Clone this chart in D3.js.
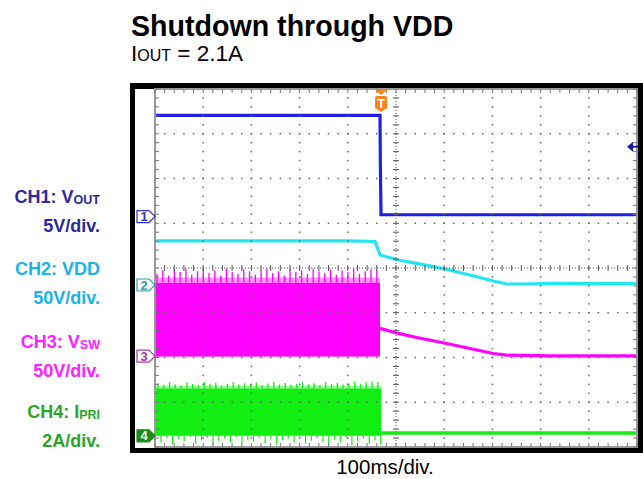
<!DOCTYPE html>
<html><head><meta charset="utf-8">
<script src="https://cdn.jsdelivr.net/npm/d3@7"></script>
<style>html,body{margin:0;padding:0;background:#fff;} svg{display:block;}</style>
</head><body>
<script>
// ---------------- data ----------------
const titleText = "Shutdown through VDD";
const timeLabel = "100ms/div.";
const channelNames = ["CH1: V", "CH2: VDD", "CH3: V", "CH4: I"];
const channelSubs = ["OUT", "", "SW", "PRI"];
const channelScales = ["5V/div.", "50V/div.", "50V/div.", "2A/div."];
const voltsPerDiv = [5, 50, 50, 2];
const groundDiv = [1.15, -0.38, -1.97, -3.75];   // channel ground offsets in divisions
const triggerTime = 469;      // ms
const triggerLevel = 7.8;     // V on CH1

// CH1 Vout (V)
const ch1Time = [0, 466.8, 467.6, 468.9, 1000];
const ch1Val  = [11.3, 11.3, 5.5, 0.2, 0.2];
// CH2 VDD (V)
const ch2Time = [0, 404.6, 456.4, 466.8, 504.8, 543, 605.2, 653.5, 701.9, 729.7, 764.1, 819.5, 1000];
const ch2Val  = [49.2, 49.2, 48.6, 33.5, 27.9, 24.2, 17.5, 11.2, 4.5, 1.1, 1.1, 1.9, 1.5];
// CH3 Vsw (V): switching band then decay
const ch3BandEnd = 466.8;
const ch3BandTop = 82;
const ch3BandLow = -0.5;
const ch3PeakStep = 12;
const ch3Peak = [92, 96, 90, 97, 94, 98, 91, 95, 97, 93, 96, 90, 98, 94, 92, 97, 95, 91, 96, 98,
                 93, 95, 90, 97, 94, 96, 92, 98, 95, 93, 97, 91, 96, 94, 98, 92, 95, 97, 96];
const ch3TailTime = [466.8, 504.8, 543, 605.2, 653.5, 701.9, 729.7, 764.1, 819.5, 1000];
const ch3TailVal  = [31, 25.4, 20.9, 14.2, 8.6, 3, 1.1, 0.8, 0.3, 0.3];
// CH4 Ipri (A): switching band then near zero
const ch4BandEnd = 468.9;
const ch4BandTop = 2.12;
const ch4BandLow = 0.0;
const ch4PeakStep = 12;
const ch4Peak = [2.35, 2.28, 2.4, 2.3, 2.25, 2.38, 2.32, 2.27, 2.42, 2.3, 2.36, 2.26, 2.33, 2.4, 2.29, 2.35, 2.31, 2.38, 2.27, 2.34,
                 2.41, 2.3, 2.36, 2.28, 2.33, 2.39, 2.3, 2.35, 2.27, 2.4, 2.32, 2.37, 2.29, 2.34, 2.42, 2.31, 2.38, 2.43, 2.4];
const ch4Dip = [-0.3, -0.1, -0.38, -0.15, -0.25, -0.05, -0.35, -0.2, -0.1, -0.4, -0.22, -0.12, -0.3, -0.08, -0.36, -0.18, -0.27, -0.1, -0.33, -0.15,
                -0.4, -0.2, -0.12, -0.3, -0.06, -0.35, -0.22, -0.1, -0.28, -0.38, -0.15, -0.3, -0.1, -0.42, -0.25, -0.12, -0.36, -0.2, -0.4];
const ch4TailTime = [468.9, 1000];
const ch4TailVal  = [0.13, 0.13];

// ---------------- styles ----------------
const labelColors = ["#2b2a9c", "#1ab2e8", "#ff22ff", "#2aa52a"];
const traceColors = ["#1f1fe6", "#22e6f0", "#ff00ff", "#11ee11"];
const markerColors = ["#3434c4", "#2aa0a8", "#a83aa8", "#1a8c1a"];
const FONT = "'Liberation Sans', Arial, Helvetica, sans-serif";

const W = 643, H = 479;
const plot = {left: 155, right: 637, top: 89, bottom: 447};

const svg = d3.select("body").append("svg").attr("width", W).attr("height", H)
  .style("font-family", FONT);

// scales
const x = d3.scaleLinear().domain([0, 1000]).range([plot.left, plot.right]);
const gx = d3.scaleLinear().domain([0, 10]).range([plot.left, plot.right]);
const gy = d3.scaleLinear().domain([-4, 4]).range([plot.bottom, plot.top]);
const cy = (ch, v) => gy(v / voltsPerDiv[ch] + groundDiv[ch]);

// title
svg.append("text").attr("x", 131).attr("y", 36).attr("font-size", 28.6).attr("font-weight", "bold")
  .attr("fill", "#000").text(titleText);
const sub = svg.append("text").attr("x", 131).attr("y", 61).attr("font-size", 22.5).attr("fill", "#000");
sub.append("tspan").text("I");
sub.append("tspan").attr("font-size", 16).text("OUT");
sub.append("tspan").text(" = 2.1A");

// frame
svg.append("rect").attr("x", 130).attr("y", 83).attr("width", 513).attr("height", 370).attr("fill", "#000");
svg.append("rect").attr("x", 135).attr("y", 89).attr("width", 503).attr("height", 359).attr("fill", "#fff");

// left labels
const labelBase = [203, 275, 348, 418];
channelNames.forEach((n, i) => {
  const t = svg.append("text").attr("x", 100).attr("y", labelBase[i]).attr("text-anchor", "end")
    .attr("font-size", 18).attr("font-weight", "bold").attr("fill", labelColors[i]);
  t.append("tspan").text(n);
  if (channelSubs[i]) t.append("tspan").attr("font-size", 12.5).attr("dy", 1).text(channelSubs[i]);
  svg.append("text").attr("x", 100).attr("y", labelBase[i] + 29).attr("text-anchor", "end")
    .attr("font-size", 18).attr("font-weight", "bold").attr("fill", labelColors[i]).text(channelScales[i]);
});

const traces = svg.append("g");
const lineGen = d3.line().x(d => x(d[0])).y(d => d[1]);
const zip = (ts, vs, ch) => ts.map((t, i) => [t, cy(ch, vs[i])]);

// CH1
traces.append("path").attr("d", lineGen(zip(ch1Time, ch1Val, 0)))
  .attr("fill", "none").attr("stroke", traceColors[0]).attr("stroke-width", 3.2);
// CH2
traces.append("path").attr("d", lineGen(zip(ch2Time, ch2Val, 1)))
  .attr("fill", "none").attr("stroke", traceColors[1]).attr("stroke-width", 3.2);

// CH3 band
const ch3PeakT = ch3Peak.map((v, i) => i * ch3PeakStep);
traces.append("rect").attr("x", x(0)).attr("width", x(ch3BandEnd) - x(0))
  .attr("y", cy(2, ch3BandTop + 6)).attr("height", cy(2, ch3BandTop) - cy(2, ch3BandTop + 6))
  .attr("fill", "#ff9cff");
traces.append("rect").attr("x", x(0)).attr("width", x(ch3BandEnd) - x(0))
  .attr("y", cy(2, ch3BandTop)).attr("height", cy(2, ch3BandLow) - cy(2, ch3BandTop))
  .attr("fill", traceColors[2]);
traces.append("g").selectAll("line").data(ch3Peak).join("line")
  .attr("x1", (d, i) => x(ch3PeakT[i]) + 2).attr("x2", (d, i) => x(ch3PeakT[i]) + 2)
  .attr("y1", cy(2, ch3BandTop)).attr("y2", d => cy(2, d))
  .attr("stroke", traceColors[2]).attr("stroke-width", 1.3);
traces.append("path").attr("d", lineGen(zip(ch3TailTime, ch3TailVal, 2)))
  .attr("fill", "none").attr("stroke", traceColors[2]).attr("stroke-width", 3.2);

// CH4 band
const ch4PeakT = ch4Peak.map((v, i) => i * ch4PeakStep);
traces.append("rect").attr("x", x(0)).attr("width", x(ch4BandEnd) - x(0))
  .attr("y", cy(3, ch4BandTop + 0.12)).attr("height", cy(3, ch4BandTop) - cy(3, ch4BandTop + 0.12))
  .attr("fill", "#9cff9c");
traces.append("rect").attr("x", x(0)).attr("width", x(ch4BandEnd) - x(0))
  .attr("y", cy(3, ch4BandTop)).attr("height", cy(3, ch4BandLow) - cy(3, ch4BandTop))
  .attr("fill", traceColors[3]);
traces.append("g").selectAll("line").data(ch4Peak).join("line")
  .attr("x1", (d, i) => x(ch4PeakT[i]) + 3).attr("x2", (d, i) => x(ch4PeakT[i]) + 3)
  .attr("y1", cy(3, ch4BandTop)).attr("y2", d => cy(3, d))
  .attr("stroke", traceColors[3]).attr("stroke-width", 1.3);
traces.append("g").selectAll("line").data(ch4Dip).join("line")
  .attr("x1", (d, i) => x(ch4PeakT[i]) + 6).attr("x2", (d, i) => x(ch4PeakT[i]) + 6)
  .attr("y1", cy(3, ch4BandLow)).attr("y2", d => cy(3, d))
  .attr("stroke", traceColors[3]).attr("stroke-width", 1.2);
traces.append("path").attr("d", lineGen(zip(ch4TailTime, ch4TailVal, 3)))
  .attr("fill", "none").attr("stroke", traceColors[3]).attr("stroke-width", 3.5);

// ---------------- graticule (on top) ----------------
const grid = svg.append("g");
const minorX = d3.range(0, 10.001, 0.2);
const minorY = d3.range(-4, 4.001, 0.2);
[1, 2, 3, 4, 6, 7, 8, 9].forEach(d => {
  grid.append("g").selectAll("rect").data(minorY).join("rect")
    .attr("x", gx(d) - 0.75).attr("y", v => gy(v) - 0.75).attr("width", 1.5).attr("height", 1.5).attr("fill", "#666");
});
[-3, -2, -1, 1, 2, 3].forEach(d => {
  grid.append("g").selectAll("rect").data(minorX).join("rect")
    .attr("x", v => gx(v) - 0.75).attr("y", gy(d) - 0.75).attr("width", 1.5).attr("height", 1.5).attr("fill", "#666");
});
grid.append("line").attr("x1", gx(5)).attr("x2", gx(5)).attr("y1", gy(4)).attr("y2", gy(-4))
  .attr("stroke", "#555").attr("stroke-width", 1).attr("stroke-dasharray", "1,2");
grid.append("line").attr("x1", gx(0)).attr("x2", gx(10)).attr("y1", gy(0)).attr("y2", gy(0))
  .attr("stroke", "#555").attr("stroke-width", 1).attr("stroke-dasharray", "1,2");
grid.append("g").selectAll("line").data(minorY).join("line")
  .attr("x1", gx(5) - 3).attr("x2", gx(5) + 3).attr("y1", v => gy(v)).attr("y2", v => gy(v))
  .attr("stroke", "#555").attr("stroke-width", 1);
grid.append("g").selectAll("line").data(minorX).join("line")
  .attr("y1", gy(0) - 3).attr("y2", gy(0) + 3).attr("x1", v => gx(v)).attr("x2", v => gx(v))
  .attr("stroke", "#555").attr("stroke-width", 1);
grid.append("rect").attr("x", gx(0)).attr("y", gy(4)).attr("width", gx(10) - gx(0)).attr("height", gy(-4) - gy(4))
  .attr("fill", "none").attr("stroke", "#999").attr("stroke-width", 2);
grid.append("g").selectAll("line").data(minorX).join("line")
  .attr("x1", v => gx(v)).attr("x2", v => gx(v)).attr("y1", gy(4)).attr("y2", gy(4) + 4)
  .attr("stroke", "#777").attr("stroke-width", 1);
grid.append("g").selectAll("line").data(minorX).join("line")
  .attr("x1", v => gx(v)).attr("x2", v => gx(v)).attr("y1", gy(-4)).attr("y2", gy(-4) - 4)
  .attr("stroke", "#777").attr("stroke-width", 1);
grid.append("g").selectAll("line").data(minorY).join("line")
  .attr("y1", v => gy(v)).attr("y2", v => gy(v)).attr("x1", gx(0)).attr("x2", gx(0) + 4)
  .attr("stroke", "#777").attr("stroke-width", 1);
grid.append("g").selectAll("line").data(minorY).join("line")
  .attr("y1", v => gy(v)).attr("y2", v => gy(v)).attr("x1", gx(10)).attr("x2", gx(10) - 4)
  .attr("stroke", "#777").attr("stroke-width", 1);

// ---------------- markers ----------------
[0, 1, 2, 3].forEach(ch => {
  const yy = cy(ch, 0), x0 = 137;
  const filled = ch === 3;
  svg.append("path").attr("d", `M${x0},${yy - 6}L${x0 + 12},${yy - 6}L${x0 + 18},${yy}L${x0 + 12},${yy + 6}L${x0},${yy + 6}Z`)
    .attr("fill", filled ? markerColors[ch] : "#fff").attr("stroke", markerColors[ch]).attr("stroke-width", 1.2);
  svg.append("text").attr("x", x0 + 7).attr("y", yy + 4.5).attr("text-anchor", "middle")
    .attr("font-size", 13).attr("font-weight", "bold").attr("fill", filled ? "#fff" : markerColors[ch]).text(ch + 1);
});
{
  const tx = x(triggerTime), ty = plot.top + 1;
  svg.append("path").attr("d", `M${tx - 6},${ty}L${tx + 6},${ty}L${tx},${ty + 5}Z`).attr("fill", "#f5841f");
  svg.append("path").attr("d", `M${tx - 6},${ty + 8}Q${tx - 6},${ty + 6} ${tx - 4},${ty + 6}L${tx + 4},${ty + 6}Q${tx + 6},${ty + 6} ${tx + 6},${ty + 8}L${tx + 6},${ty + 18}L${tx},${ty + 22}L${tx - 6},${ty + 18}Z`)
    .attr("fill", "#f5841f");
  svg.append("text").attr("x", tx).attr("y", ty + 18).attr("text-anchor", "middle").attr("font-size", 12)
    .attr("font-weight", "bold").attr("fill", "#fff").text("T");
}
{
  const ly = cy(0, triggerLevel), rx = plot.right;
  svg.append("path").attr("d", `M${rx - 10},${ly}L${rx - 4},${ly - 5}L${rx - 4},${ly + 5}Z`).attr("fill", "#1a1aa0");
  svg.append("line").attr("x1", rx - 5).attr("x2", rx + 1).attr("y1", ly).attr("y2", ly)
    .attr("stroke", "#1a1aa0").attr("stroke-width", 2);
}

svg.append("text").attr("x", 385).attr("y", 474).attr("text-anchor", "middle").attr("font-size", 20.5)
  .attr("fill", "#000").text(timeLabel);
</script>
</body></html>
